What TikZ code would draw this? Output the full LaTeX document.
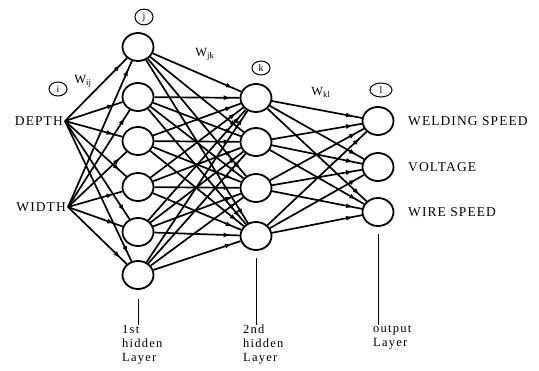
\documentclass[tikz,border=0pt]{standalone}
\usepackage{fontspec}
\setmainfont{Liberation Serif}
\newfontfamily\bigf[LetterSpace=8]{Liberation Serif}
\newfontfamily\smf[LetterSpace=10]{Liberation Serif}
\usetikzlibrary{shapes.geometric,arrows.meta,decorations.markings,calc}
\begin{document}
\begin{tikzpicture}[x=1pt,y=-1pt,
  neuron/.style={draw,ellipse,line width=1.8pt,minimum width=31pt,minimum height=28pt,inner sep=0pt},
  tag/.style={draw,ellipse,line width=1pt,inner sep=1.2pt,minimum width=18pt,minimum height=14pt,font=\fontsize{10}{11}\selectfont},
  conn/.style={line width=1.7pt,postaction={decorate},decoration={markings,mark=at position -9pt with {\arrow{Latex[length=7pt,width=5pt]}}}},
  iolabel/.style={font=\bigf\fontsize{13.5}{15}\selectfont,inner sep=0pt},
  laylabel/.style={font=\smf\fontsize{12.5}{14}\selectfont,align=left,inner sep=0pt,anchor=north west},
  wlabel/.style={font=\fontsize{12.5}{13}\selectfont,inner sep=0pt}]
\useasboundingbox (0,0) rectangle (539,371);
% inputs
\node[iolabel,anchor=east] (depth) at (63,121) {DEPTH};
\node[iolabel,anchor=east] (width) at (66,207) {WIDTH};
\coordinate (i1) at (65,121);
\coordinate (i2) at (68,207);
% hidden 1
\foreach \n/\y in {1/47,2/97,3/141,4/187,5/232,6/275}
  \node[neuron] (a\n) at (138,\y) {};
% hidden 2
\foreach \n/\y in {1/98,2/142,3/188,4/236}
  \node[neuron] (b\n) at (256,\y) {};
% output
\foreach \n/\y in {1/121,2/167,3/212}
  \node[neuron] (c\n) at (378,\y) {};
% connections
\foreach \i in {1,2}
  \foreach \n in {1,...,6}
    \draw[conn] (i\i) -- (a\n);
\foreach \m in {1,...,6}
  \foreach \n in {1,...,4}
    \draw[conn] (a\m) -- (b\n);
\foreach \m in {1,...,4}
  \foreach \n in {1,...,3}
    \draw[conn] (b\m) -- (c\n);
% output labels
\node[iolabel,anchor=west] (o1) at (408,121) {WELDING SPEED};
\node[iolabel,anchor=west] (o2) at (408,167) {VOLTAGE};
\node[iolabel,anchor=west] (o3) at (408,212) {WIRE SPEED};
% tags
\node[tag] (ti) at (58,89) {i};
\node[tag] (tj) at (144,17) {j};
\node[tag] (tk) at (261,68) {k};
\node[tag,minimum width=22pt] (tl) at (381,90) {l};
% weight labels
\node[wlabel] (wij) at (83,81) {W\textsubscript{ij}};
\node[wlabel] (wjk) at (205,54) {W\textsubscript{jk}};
\node[wlabel] (wkl) at (321,92) {W\textsubscript{kl}};
% layer labels
\node[laylabel] (l1) at (122,325) {1st\\hidden\\Layer};
\node[laylabel] (l2) at (243,325) {2nd\\hidden\\Layer};
\node[laylabel] (l3) at (373,325) {output\\Layer};
\draw[line width=1pt] ($(a6.south)+(0,9)$) -- (a6.south |- l1.north);
\draw[line width=1pt] ($(b4.south)+(0,7)$) -- (b4.south |- l2.north);
\draw[line width=1pt] ($(c3.south)+(0,7)$) -- (c3.south |- l3.north);
\end{tikzpicture}
\end{document}
